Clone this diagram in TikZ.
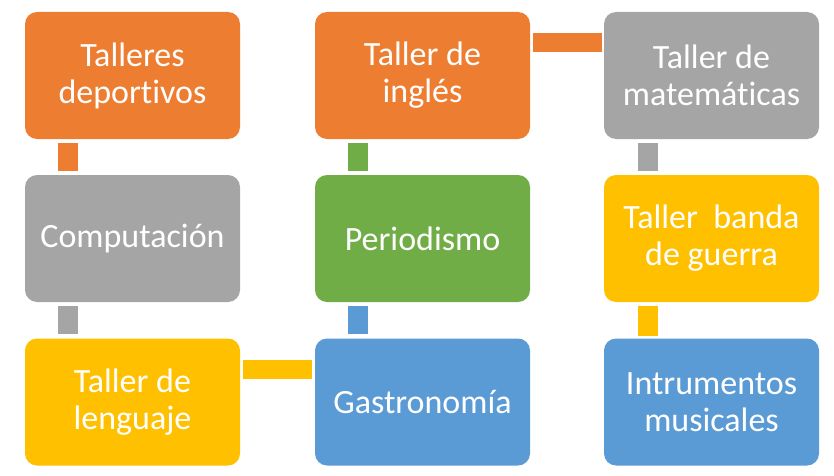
\documentclass[tikz,border=0pt]{standalone}
\usepackage{fontspec}
\setmainfont{Carlito}[Ligatures=NoCommon]
\definecolor{corange}{HTML}{ED7D31}
\definecolor{cgray}{HTML}{A5A5A5}
\definecolor{cgreen}{HTML}{70AD47}
\definecolor{cblue}{HTML}{5B9BD5}
\definecolor{cyellow}{HTML}{FFC000}
\begin{document}
\begin{tikzpicture}[x=1pt,y=1pt,
  box/.style={rectangle, rounded corners=12pt, minimum width=215pt, minimum height=127pt,
    inner sep=0pt, align=center, text=white, font=\fontsize{34}{37}\selectfont},
  vlink/.style={line width=20pt},
  hlink/.style={line width=19pt}]
\useasboundingbox (0,0) rectangle (834,475);
\node[box, fill=corange] (a1) at (132.5,399.5) {Talleres\\deportivos};
\node[box, fill=cgray]   (a2) at (132.5,236.5) {Computación};
\node[box, fill=cyellow] (a3) at (132.5,73)    {Taller de\\lenguaje};
\node[box, fill=corange] (b1) at (422.5,399.5) {Taller de\\inglés};
\node[box, fill=cgreen]  (b2) at (422.5,236.5) {Periodismo};
\node[box, fill=cblue]   (b3) at (422.5,73)    {Gastronomía};
\node[box, fill=cgray]   (c1) at (711.5,399.5) {Taller de\\matemáticas};
\node[box, fill=cyellow] (c2) at (711.5,236.5) {Taller\ \ banda\\de guerra};
\node[box, fill=cblue]   (c3) at (711.5,73)    {Intrumentos\\musicales};
% connectors
\draw[vlink, corange] ([xshift=43pt,yshift=-4pt]a1.south west) -- ([xshift=43pt,yshift=4pt]a2.north west);
\draw[vlink, cgray]   ([xshift=43pt,yshift=-4pt]a2.south west) -- ([xshift=43pt,yshift=4pt]a3.north west);
\draw[hlink, cyellow] ([xshift=3pt,yshift=-31.5pt]a3.north east) -- ([xshift=-3pt,yshift=-31.5pt]b3.north west);
\draw[vlink, cblue]   ([xshift=43pt,yshift=4pt]b3.north west) -- ([xshift=43pt,yshift=-4pt]b2.south west);
\draw[vlink, cgreen]  ([xshift=43pt,yshift=4pt]b2.north west) -- ([xshift=43pt,yshift=-4pt]b1.south west);
\draw[hlink, corange] ([xshift=3pt,yshift=-30.5pt]b1.north east) -- ([xshift=-2pt,yshift=-30.5pt]c1.north west);
\draw[vlink, cgray]   ([xshift=44pt,yshift=-4pt]c1.south west) -- ([xshift=44pt,yshift=4pt]c2.north west);
\draw[vlink, cyellow] ([xshift=44pt,yshift=-4pt]c2.south west) -- ([xshift=44pt,yshift=2pt]c3.north west);
\end{tikzpicture}
\end{document}
